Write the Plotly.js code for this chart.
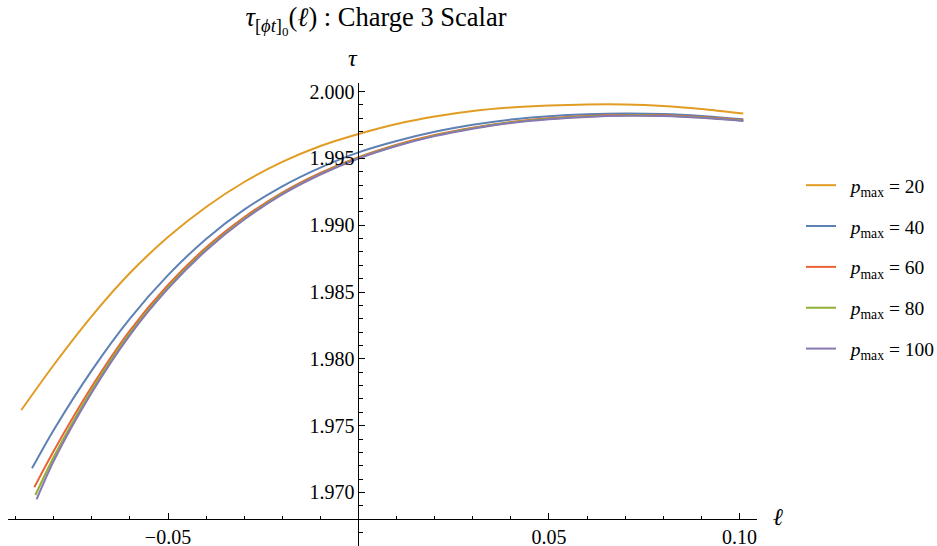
<!DOCTYPE html>
<html>
<head>
<meta charset="utf-8">
<script src="https://cdn.plot.ly/plotly-3.0.1.min.js"></script>
<style>html,body{margin:0;padding:0;background:#fff;}</style>
</head>
<body>
<div id="chart" style="width:937px;height:546px;"></div>
<script>
// ℓ grid (common part) — each curve starts at its own left end
const grid = [-0.08, -0.07, -0.06, -0.05, -0.04, -0.03, -0.02, -0.01, 0, 0.01, 0.02, 0.03, 0.04, 0.05, 0.06, 0.07, 0.08, 0.09, 0.101];

const startL = { p20: -0.0885, p40: -0.0857, p60: -0.0851, p80: -0.0848, p100: -0.0845 };

const tau_p20  = [1.97617, 1.97954, 1.98320, 1.98642, 1.98911, 1.99136, 1.99323, 1.99473, 1.99592, 1.99682, 1.99757, 1.99813, 1.99854, 1.99880, 1.99895, 1.99903, 1.99903, 1.99892, 1.99869, 1.99835];
const tau_p40  = [1.97181, 1.97468, 1.97914, 1.98301, 1.98626, 1.98897, 1.99116, 1.99291, 1.99431, 1.99545, 1.99630, 1.99699, 1.99751, 1.99790, 1.99815, 1.99830, 1.99836, 1.99832, 1.99817, 1.99792];
const tau_p60  = [1.97039, 1.97311, 1.97793, 1.98212, 1.98552, 1.98833, 1.99059, 1.99244, 1.99391, 1.99508, 1.99601, 1.99674, 1.99729, 1.99771, 1.99799, 1.99816, 1.99824, 1.99822, 1.99809, 1.99785];
const tau_p80  = [1.96981, 1.97266, 1.97767, 1.98192, 1.98536, 1.98819, 1.99048, 1.99236, 1.99384, 1.99503, 1.99596, 1.99670, 1.99726, 1.99768, 1.99796, 1.99813, 1.99821, 1.99819, 1.99806, 1.99782];
const tau_p100 = [1.96949, 1.97236, 1.97748, 1.98178, 1.98525, 1.98811, 1.99042, 1.99230, 1.99379, 1.99499, 1.99592, 1.99666, 1.99722, 1.99765, 1.99793, 1.99810, 1.99818, 1.99816, 1.99803, 1.99779];

const seriesNames = ["<i>p</i><sub>max</sub> = 20", "<i>p</i><sub>max</sub> = 40", "<i>p</i><sub>max</sub> = 60", "<i>p</i><sub>max</sub> = 80", "<i>p</i><sub>max</sub> = 100"];
const seriesKeys = ["p20", "p40", "p60", "p80", "p100"];
const seriesVals = [tau_p20, tau_p40, tau_p60, tau_p80, tau_p100];
const colors = ["#E19C24", "#5E81B5", "#EB6235", "#8FB032", "#8778B3"];

const yTickVals = [1.970, 1.975, 1.980, 1.985, 1.990, 1.995, 2.000];
const yTickText = ["1.970", "1.975", "1.980", "1.985", "1.990", "1.995", "2.000"];
const xTickVals = [-0.05, 0.05, 0.10];
const xTickText = ["\u22120.05", "0.05", "0.10"];

const xRange = [-0.092, 0.1046];
const yRange = [1.965997, 2.000636];

const traces = seriesKeys.map((k, i) => ({
  x: [startL[k]].concat(grid),
  y: seriesVals[i],
  type: "scatter",
  mode: "lines",
  name: "\u00a0\u00a0" + seriesNames[i],
  legendgroup: k,
  line: { color: colors[i], width: 2, shape: "spline", smoothing: 0.8 }
}));

const font = "Liberation Serif, Times New Roman, serif";

const layout = {
  width: 937, height: 546,
  margin: { l: 8, r: 180, t: 83, b: 0, autoexpand: false },
  paper_bgcolor: "#fff", plot_bgcolor: "#fff",
  font: { family: font, color: "#000" },
  title: {
    text: "<i>τ</i><sub>[<i>ϕt</i>]<sub>0</sub></sub>(<i>ℓ</i>) : Charge 3 Scalar",
    font: { family: font, size: 26.5, color: "#000" },
    xref: "container", yref: "container",
    x: 376 / 937, xanchor: "center",
    y: 1 - 17 / 546, yanchor: "middle"
  },
  xaxis: {
    range: xRange, anchor: "free", position: (1.968 - yRange[0]) / (yRange[1] - yRange[0]),
    showgrid: false, zeroline: false, showline: true, linecolor: "#000", linewidth: 1,
    ticks: "inside", ticklen: 6, tickcolor: "#000", tickwidth: 1,
    tickvals: xTickVals, ticktext: xTickText,
    tickfont: { family: font, size: 20, color: "#000" },
    minor: { dtick: 0.01, tick0: 0, ticks: "inside", ticklen: 3.5, tickcolor: "#000", tickwidth: 1, showgrid: false }
  },
  yaxis: {
    range: yRange, anchor: "free", position: (0 - xRange[0]) / (xRange[1] - xRange[0]),
    showgrid: false, zeroline: false, showline: true, linecolor: "#000", linewidth: 1,
    ticks: "inside", ticklen: 6, tickcolor: "#000", tickwidth: 1,
    tickvals: yTickVals, ticktext: yTickText,
    tickfont: { family: font, size: 20, color: "#000" },
    minor: { dtick: 0.001, tick0: 1.965, ticks: "inside", ticklen: 3.5, tickcolor: "#000", tickwidth: 1, showgrid: false }
  },
  showlegend: true,
  legend: {
    x: (801 - 8) / 749, xanchor: "left",
    y: (546 - 166) / 463, yanchor: "top",
    font: { family: font, size: 19.5, color: "#000" },
    tracegroupgap: 12.5,
    bgcolor: "rgba(0,0,0,0)", borderwidth: 0
  },
  annotations: [
    { text: "<i>τ</i>", xref: "paper", yref: "paper", x: (353 - 8) / 749, y: (546 - 58) / 463,
      xanchor: "center", yanchor: "middle", showarrow: false, font: { family: font, size: 24, color: "#000" } },
    { text: "<i>ℓ</i>", xref: "paper", yref: "paper", x: (778 - 8) / 749, y: (546 - 517) / 463,
      xanchor: "center", yanchor: "middle", showarrow: false, font: { family: font, size: 24, color: "#000" } }
  ]
};

Plotly.newPlot("chart", traces, layout, { displayModeBar: false, staticPlot: true });
</script>
</body>
</html>
